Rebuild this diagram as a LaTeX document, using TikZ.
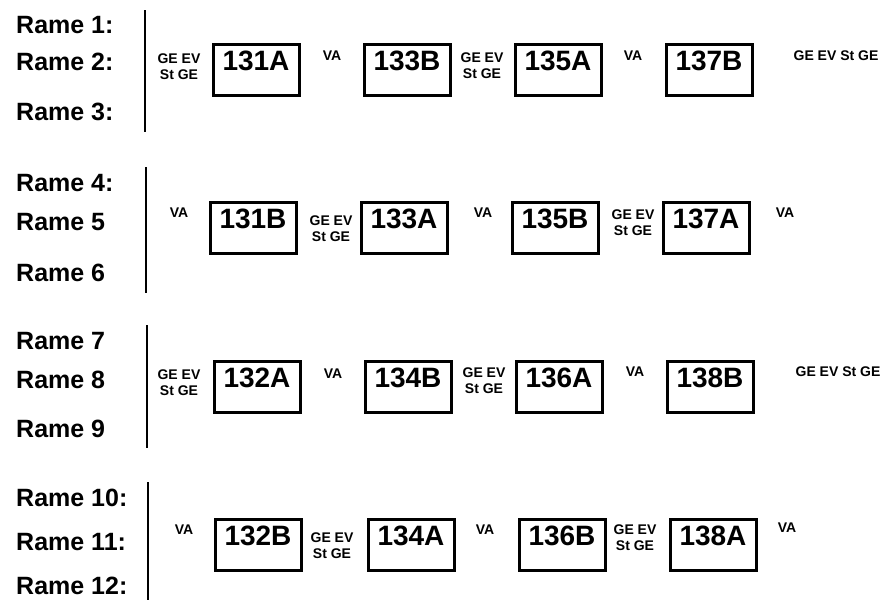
\documentclass[tikz,border=0pt]{standalone}
\usepackage{fontspec}
\setmainfont{Liberation Sans}
\usetikzlibrary{positioning}
\tikzset{
  rame/.style={anchor=base west, inner sep=0pt, font=\fontsize{25}{30}\selectfont\bfseries},
  car/.style={draw, line width=3pt, minimum width=86pt, minimum height=51pt, inner sep=0pt,
    text height=25.5pt, text depth=25.5pt, font=\fontsize{28}{32}\selectfont\bfseries},
  tag/.style={align=center, inner sep=0pt, font=\fontsize{14}{16}\selectfont\bfseries},
  bar/.style={line width=2.5pt},
}

\begin{document}
\begin{tikzpicture}[x=1pt, y=-1pt]
    \useasboundingbox (0,0) rectangle (885,600);
    % row labels
    \node[rame] (r1) at (16,33) {Rame 1:};
    \node[rame] (r2) at (16,70) {Rame 2:};
    \node[rame] (r3) at (16,120) {Rame 3:};
    \node[rame] (r4) at (16,191) {Rame 4:};
    \node[rame] (r5) at (16,230) {Rame 5};
    \node[rame] (r6) at (16,281) {Rame 6};
    \node[rame] (r7) at (16,349) {Rame 7};
    \node[rame] (r8) at (16,388) {Rame 8};
    \node[rame] (r9) at (16,437) {Rame 9};
    \node[rame] (r10) at (16,506) {Rame 10:};
    \node[rame] (r11) at (16,550) {Rame 11:};
    \node[rame] (r12) at (16,594) {Rame 12:};
    \draw[bar] (145,10) -- (145,132);
    \draw[bar] (146,167) -- (146,293);
    \draw[bar] (147,325) -- (147,448);
    \draw[bar] (148,482) -- (148,600);
    % row 1
    \node[car] (c131A) at (256,70) {131A};
    \node[car, right=62pt of c131A] (c133B) {133B};
    \node[car, right=62pt of c133B] (c135A) {135A};
    \node[car, right=62pt of c135A] (c137B) {137B};
    \node[tag] (t1a) at (179,67) {GE EV\\St GE};
    \node[tag] (t1b) at (332,56) {VA};
    \node[tag] (t1c) at (482,66) {GE EV\\St GE};
    \node[tag] (t1d) at (633,56) {VA};
    \node[tag] (t1e) at (836,56) {GE EV St GE};
    % row 2
    \node[car] (c131B) at (253,228) {131B};
    \node[car, right=62pt of c131B] (c133A) {133A};
    \node[car, right=62pt of c133A] (c135B) {135B};
    \node[car, right=62pt of c135B] (c137A) {137A};
    \node[tag] (t2a) at (179,213) {VA};
    \node[tag] (t2b) at (331,229) {GE EV\\St GE};
    \node[tag] (t2c) at (483,213) {VA};
    \node[tag] (t2d) at (633,223) {GE EV\\St GE};
    \node[tag] (t2e) at (785,213) {VA};
    % row 3
    \node[car] (c132A) at (257,387) {132A};
    \node[car, right=62pt of c132A] (c134B) {134B};
    \node[car, right=62pt of c134B] (c136A) {136A};
    \node[car, right=62pt of c136A] (c138B) {138B};
    \node[tag] (t3a) at (179,383) {GE EV\\St GE};
    \node[tag] (t3b) at (333,374) {VA};
    \node[tag] (t3c) at (484,381) {GE EV\\St GE};
    \node[tag] (t3d) at (635,372) {VA};
    \node[tag] (t3e) at (838,372) {GE EV St GE};
    % row 4
    \node[car] (c132B) at (258,545) {132B};
    \node[car, right=64pt of c132B] (c134A) {134A};
    \node[car, right=62pt of c134A] (c136B) {136B};
    \node[car, right=62pt of c136B] (c138A) {138A};
    \node[tag] (t4a) at (184,530) {VA};
    \node[tag] (t4b) at (332,546) {GE EV\\St GE};
    \node[tag] (t4c) at (485,530) {VA};
    \node[tag] (t4d) at (635,538) {GE EV\\St GE};
    \node[tag] (t4e) at (787,528) {VA};
\end{tikzpicture}
\end{document}
